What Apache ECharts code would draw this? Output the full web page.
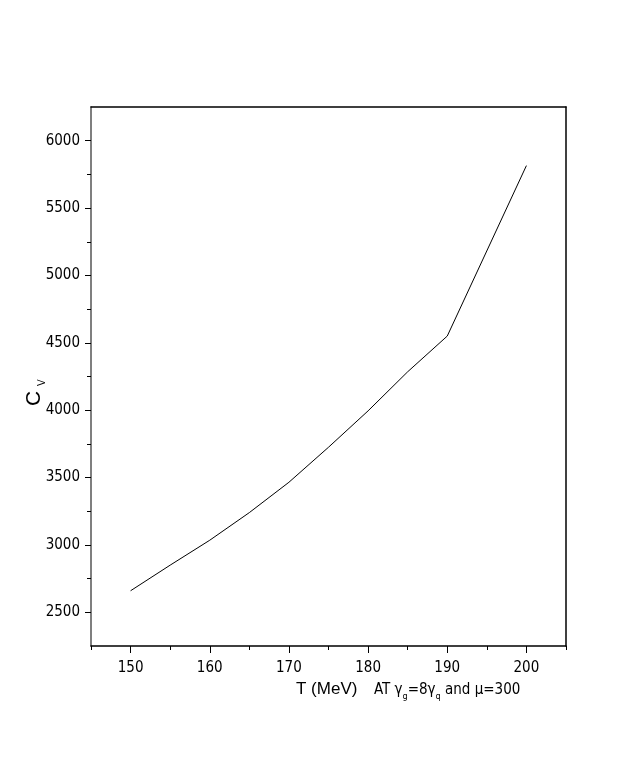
<!DOCTYPE html>
<html>
<head>
<meta charset="utf-8">
<script src="https://cdn.jsdelivr.net/npm/echarts@6/dist/echarts.min.js"></script>
<style>
  html, body { margin: 0; padding: 0; background: #fff; }
  #chart { width: 623px; height: 761px; }
</style>
</head>
<body>
<div id="chart"></div>
<script>
// T (MeV) against C_V
const temps = [150, 155, 160, 165, 170, 175, 180, 185, 190, 200];
const cv = [2660, 2850, 3035, 3240, 3465, 3725, 3995, 4285, 4550, 5815];

const xMajor = [150, 160, 170, 180, 190, 200];
const xMinor = [145, 155, 165, 175, 185, 195, 205];
const yMajor = [2500, 3000, 3500, 4000, 4500, 5000, 5500, 6000];
const yMinor = [2750, 3250, 3750, 4250, 4750, 5250, 5750];

const tickFont = 'DejaVu Sans Condensed, Liberation Sans Narrow, Liberation Sans, sans-serif';

const chart = echarts.init(document.getElementById('chart'));

const blank = { show: false };
const plain = v => String(v);

chart.setOption({
  animation: false,
  backgroundColor: '#fff',
  grid: { left: 91, right: 57, top: 107, bottom: 115 },
  xAxis: [
    {
      type: 'value', min: 145, max: 205, position: 'bottom',
      axisLine: { show: true, lineStyle: { color: '#000', width: 1.5 } },
      axisTick: { show: true, length: 7, customValues: xMajor, lineStyle: { color: '#000', width: 1 } },
      axisLabel: { show: true, customValues: xMajor, formatter: plain, margin: 15, color: '#000', fontSize: 15, fontFamily: tickFont },
      splitLine: blank
    },
    {
      type: 'value', min: 145, max: 205, position: 'bottom',
      axisLine: blank,
      axisTick: { show: true, length: 4, customValues: xMinor, lineStyle: { color: '#000', width: 1 } },
      axisLabel: blank, splitLine: blank
    },
    {
      type: 'value', min: 145, max: 205, position: 'top',
      axisLine: { show: true, lineStyle: { color: '#000', width: 1.5 } },
      axisTick: blank, axisLabel: blank, splitLine: blank
    }
  ],
  yAxis: [
    {
      type: 'value', min: 2250, max: 6250, position: 'left',
      axisLine: { show: true, lineStyle: { color: '#555', width: 1.5 } },
      axisTick: { show: true, length: 6, customValues: yMajor, lineStyle: { color: '#000', width: 1 } },
      axisLabel: { show: true, customValues: yMajor, formatter: plain, margin: 11, color: '#000', fontSize: 15, fontFamily: tickFont },
      splitLine: blank
    },
    {
      type: 'value', min: 2250, max: 6250, position: 'left',
      axisLine: blank,
      axisTick: { show: true, length: 4, customValues: yMinor, lineStyle: { color: '#000', width: 1 } },
      axisLabel: blank, splitLine: blank
    },
    {
      type: 'value', min: 2250, max: 6250, position: 'right',
      axisLine: { show: true, lineStyle: { color: '#000', width: 1.5 } },
      axisTick: blank, axisLabel: blank, splitLine: blank
    }
  ],
  series: [{
    type: 'line',
    xAxisIndex: 0,
    yAxisIndex: 0,
    data: temps.map((t, i) => [t, cv[i]]),
    showSymbol: false,
    symbol: 'none',
    lineStyle: { color: '#000', width: 1 }
  }],
  graphic: [
    {
      type: 'text', left: 296, top: 681,
      style: { text: 'T (MeV)', fill: '#000', font: '17px Liberation Sans, Arial, sans-serif' }
    },
    {
      type: 'text', left: 374, top: 683,
      style: {
        text: '{a|AT \u03b3}{s|g}{a|=8\u03b3}{s|q}{a| and \u03bc=300}',
        rich: {
          a: { fontSize: 15, fontFamily: tickFont, fill: '#000', lineHeight: 18, verticalAlign: 'bottom' },
          s: { fontSize: 9, fontFamily: tickFont, fill: '#000', lineHeight: 18, verticalAlign: 'bottom', padding: [0, 0, -3, 0] }
        }
      }
    },
    {
      type: 'text', x: 24, y: 406, rotation: Math.PI / 2,
      style: { text: 'C', fill: '#000', font: '21px Liberation Sans, Arial, sans-serif', verticalAlign: 'top' }
    },
    {
      type: 'text', x: 37, y: 386, rotation: Math.PI / 2,
      style: { text: 'V', fill: '#000', font: '10px Liberation Sans, Arial, sans-serif', verticalAlign: 'top' }
    }
  ]
});
</script>
</body>
</html>
